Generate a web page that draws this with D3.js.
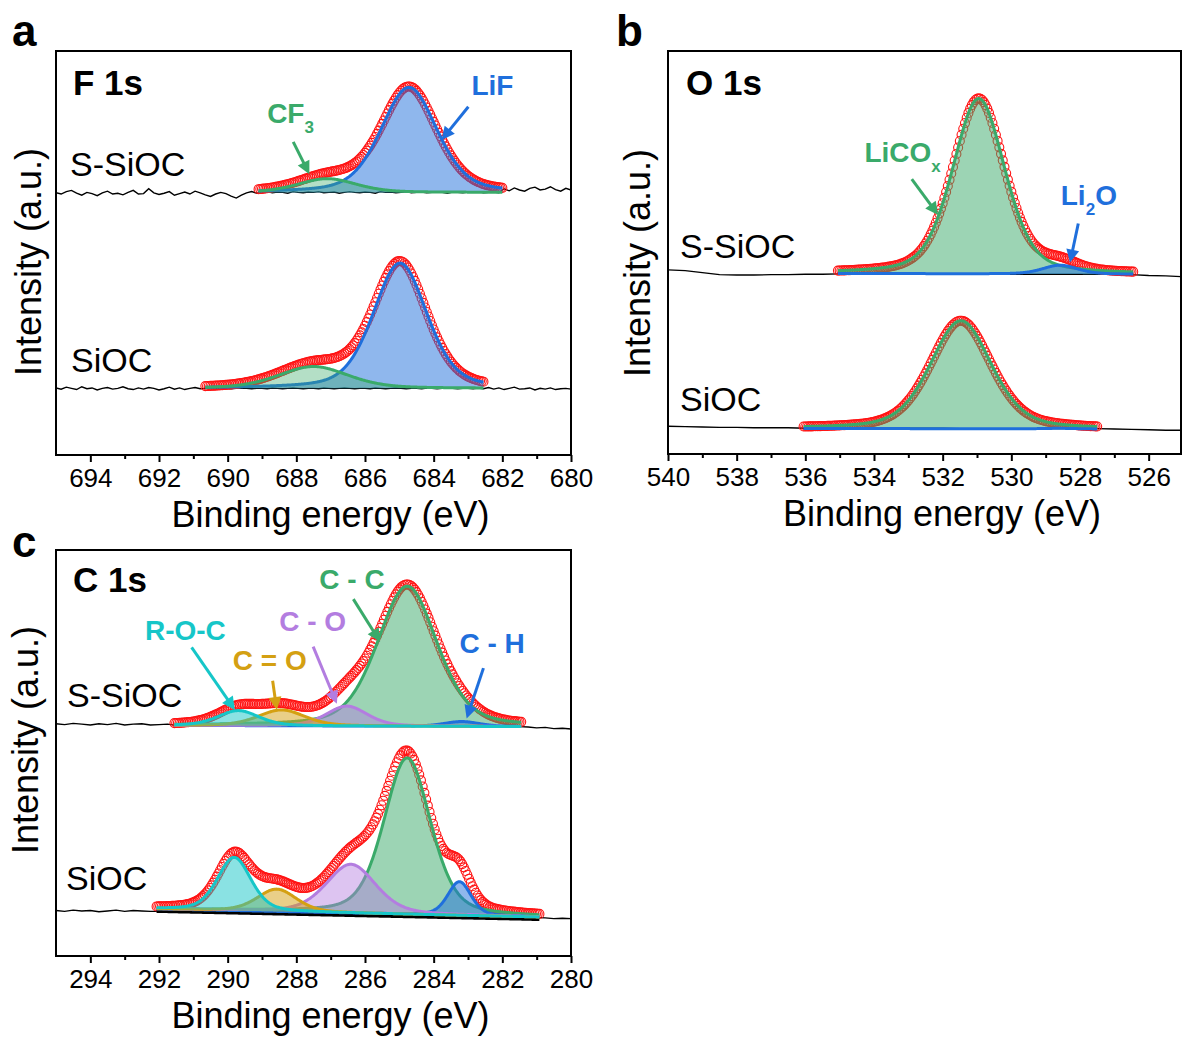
<!DOCTYPE html>
<html><head><meta charset="utf-8">
<script src="https://cdn.jsdelivr.net/npm/d3@7"></script>
<style>
body{margin:0;background:#fff}
svg{display:block}
text{font-family:"Liberation Sans",Arial,sans-serif}
</style>
</head><body>
<svg id="chart" width="1182" height="1038"></svg>
<script>
// ================= DATA =================
const panelLetters = ["a", "b", "c"];
const panelTitles = ["F 1s", "O 1s", "C 1s"];
const sampleNames = ["S-SiOC", "SiOC"];
const xTitle = "Binding energy (eV)";
const yTitle = "Intensity (a.u.)";

const xDomainA = [695, 680], xTicksA = [694, 692, 690, 688, 686, 684, 682, 680];
const xDomainB = [540, 525], xTicksB = [540, 538, 536, 534, 532, 530, 528, 526];
const xDomainC = [295, 280], xTicksC = [294, 292, 290, 288, 286, 284, 282, 280];

// ---- F 1s fitted components (centre eV, height a.u., FWHM eV) ----
const f1sNames = ["LiF", "CF3"];
const f1sCenterS = [684.72, 687.10], f1sHeightS = [26.0, 3.4], f1sFwhmS = [1.93, 2.0];
const f1sRangeS = [689.1, 682.0], f1sBgS = [65.0, 65.0];
const f1sCenterP = [684.98, 687.50], f1sHeightP = [31.0, 5.4], f1sFwhmP = [1.85, 2.4];
const f1sRangeP = [690.65, 682.55], f1sBgP = [16.5, 16.5];

// ---- O 1s fitted components ----
const o1sNames = ["LiCOx", "Li2O"];
const o1sCenterS = [530.95, 528.58], o1sHeightS = [43.5, 2.2], o1sFwhmS = [1.8, 1.2];
const o1sRangeS = [535.05, 526.45], o1sBgS = [44.8, 44.6];
const o1sCenterP = [531.47, 528.60], o1sHeightP = [26.8, 0.15], o1sFwhmP = [2.1, 1.2];
const o1sRangeP = [536.05, 527.5], o1sBgP = [6.35, 6.2];

// ---- C 1s fitted components ----
const c1sNames = ["C - C", "C - H", "C - O", "C = O", "R-O-C"];
const c1sCenterS = [284.77, 283.18, 286.53, 288.43, 289.69];
const c1sHeightS = [34.5, 1.2, 4.9, 3.9, 3.7];
const c1sFwhmS = [2.05, 1.2, 1.4, 1.6, 1.4];
const c1sRangeS = [291.55, 281.45], c1sBgS = [56.8, 56.5];
const c1sCenterP = [284.77, 283.25, 286.41, 288.57, 289.81];
const c1sHeightP = [38.5, 8.3, 12.0, 5.5, 13.1];
const c1sFwhmP = [1.6, 0.8, 1.7, 1.35, 1.15];
const c1sRangeP = [292.07, 280.92], c1sBgP = [11.6, 9.6];

// ---- raw survey traces (black lines): start eV, step eV, intensities ----
const rawAS = {start: 695, step: 0.15, v: [
 64.9,64.6,65.2,65.5,64.8,64.3,65.0,64.7,64.2,64.9,
 65.3,64.6,64.8,64.4,65.0,65.5,64.6,64.7,65.9,64.9,
 64.5,64.8,65.2,64.3,64.7,65.1,64.6,65.3,64.9,64.4,
 64.0,64.6,65.0,64.7,64.1,63.6,64.3,64.9,65.2,64.8,
 65.0,65.2,64.9,65.1,65.0,64.8,65.2,65.0,64.9,65.1,
 65.0,65.2,64.9,65.0,65.1,64.8,65.0,65.2,65.0,64.9,
 65.1,65.0,64.8,65.2,65.0,65.1,64.9,65.0,65.2,64.9,
 65.0,65.1,64.9,65.0,65.2,65.0,64.8,65.1,65.0,64.9,
 65.1,65.0,65.2,64.9,65.0,65.1,64.9,65.9,65.4,66.1,
 65.6,65.3,66.0,66.3,65.6,65.8,66.4,65.7,65.3,66.0,
 65.6]};
const rawAP = {start: 695, step: 0.15, v: [
 16.6,16.3,16.8,16.5,16.2,16.9,16.4,16.6,16.1,16.5,
 16.7,16.3,16.5,16.9,16.4,16.2,16.6,16.3,16.7,16.5,
 16.1,16.4,16.8,16.3,16.6,16.2,16.5,16.7,16.4,16.5,
 16.5,16.4,16.6,16.5,16.4,16.5,16.6,16.5,16.4,16.5,
 16.5,16.4,16.6,16.5,16.4,16.5,16.6,16.5,16.4,16.5,
 16.5,16.4,16.6,16.5,16.4,16.5,16.6,16.5,16.4,16.5,
 16.5,16.4,16.6,16.5,16.4,16.5,16.6,16.5,16.4,16.5,
 16.5,16.4,16.6,16.5,16.4,16.5,16.6,16.5,16.4,16.5,
 16.5,16.4,16.6,16.4,16.7,16.3,16.6,16.2,16.5,16.8,
 16.3,16.4,16.6,16.1,16.5,16.3,16.6,16.2,16.4,16.5,
 16.3]};
const rawBS = {start: 540, step: 0.5, v: [
 45.7,45.5,45.0,44.5,44.4,44.4,44.5,44.5,44.6,44.6,44.7,
 44.7,44.7,44.7,44.7,44.7,44.7,44.7,44.7,44.6,44.6,44.6,44.6,44.6,44.6,44.6,44.6,
 44.5,44.3,44.2,44.0]};
const rawBP = {start: 540, step: 0.5, v: [
 6.9,6.8,6.7,6.6,6.6,6.5,6.5,6.5,6.4,
 6.4,6.4,6.4,6.4,6.4,6.4,6.4,6.4,6.3,6.3,6.3,6.3,6.3,6.3,6.3,6.3,6.3,
 6.2,6.1,6.0,5.9,5.9]};
const rawCS = {start: 295, step: 0.25, v: [
 57.2,57.0,57.3,57.1,56.9,57.2,57.0,57.3,56.9,57.1,57.2,56.9,57.0,57.1,
 56.8,56.8,56.8,56.8,56.8,56.8,56.8,56.8,56.8,56.8,56.7,56.7,56.7,56.7,56.7,56.7,
 56.7,56.7,56.7,56.7,56.6,56.6,56.6,56.6,56.6,56.6,56.6,56.6,56.6,56.6,56.5,56.5,
 56.5,56.5,56.5,56.5,56.5,56.5,56.5,56.5,56.5,
 56.4,56.2,56.3,56.0,56.1,55.9]};
const rawCP = {start: 295, step: 0.25, v: [
 11.2,11.0,11.3,11.1,11.2,10.9,11.1,11.3,11.0,11.2,11.1,11.0,
 11.0,11.0,10.9,10.9,10.9,10.8,10.8,10.8,10.7,10.7,10.7,10.6,10.6,10.6,10.5,10.5,
 10.5,10.4,10.4,10.4,10.3,10.3,10.3,10.2,10.2,10.2,10.1,10.1,10.1,10.0,10.0,10.0,
 9.9,9.9,9.9,9.8,9.8,9.8,9.7,9.7,9.7,9.6,9.6,9.6,9.5,
 9.4,9.2,9.3,9.2]};

// ================= STYLE / LAYOUT =================
const BLUE = "#1f6fdc", GREEN = "#3aaa6a", PURPLE = "#b37de0", GOLD = "#d4a012", CYAN = "#16c6c8", RED = "#ff1414";
const lineMix = 0.35; // Gaussian-Lorentzian mix of the fitted components
function pv(e, c, h, w) {
  const t = (e - c) / w;
  return h * ((1 - lineMix) * Math.exp(-4 * Math.LN2 * t * t) + lineMix / (1 + 4 * t * t));
}

const panels = [
  {letter: panelLetters[0], title: panelTitles[0], frame: {x0: 56, x1: 571, y0: 51, y1: 455}, xDomain: xDomainA, ticks: xTicksA,
   colors: [BLUE, GREEN], opac: [0.5, 0.38],
   samples: [
     {name: sampleNames[0], label: [70, 176], raw: rawAS, range: f1sRangeS, bg: f1sBgS, centers: f1sCenterS, heights: f1sHeightS, fwhm: f1sFwhmS},
     {name: sampleNames[1], label: [71, 372], raw: rawAP, range: f1sRangeP, bg: f1sBgP, centers: f1sCenterP, heights: f1sHeightP, fwhm: f1sFwhmP}],
   letterPos: [12, 46], titlePos: [73, 95], yTitlePos: [41, 262],
   notes: [
     {parts: [["LiF", 0]], color: BLUE, at: [682.90, 89.2], arrow: [682.99, 86.2, 683.77, 78.0]},
     {parts: [["CF", 0], ["3", 1]], color: GREEN, at: [688.85, 82.1], arrow: [688.09, 77.5, 687.62, 69.5]}]},
  {letter: panelLetters[1], title: panelTitles[1], frame: {x0: 668, x1: 1183, y0: 51, y1: 454}, xDomain: xDomainB, ticks: xTicksB,
   colors: [GREEN, BLUE], opac: [0.5, 0.5],
   samples: [
     {name: sampleNames[0], label: [680, 258], raw: rawBS, range: o1sRangeS, bg: o1sBgS, centers: o1sCenterS, heights: o1sHeightS, fwhm: o1sFwhmS},
     {name: sampleNames[1], label: [680, 411], raw: rawBP, range: o1sRangeP, bg: o1sBgP, centers: o1sCenterP, heights: o1sHeightP, fwhm: o1sFwhmP}],
   letterPos: [616, 46], titlePos: [686, 95], yTitlePos: [650, 263],
   notes: [
     {parts: [["LiCO", 0], ["x", 1]], color: GREEN, at: [534.28, 72.5], arrow: [532.90, 68.2, 532.13, 59.3]},
     {parts: [["Li", 0], ["2", 1], ["O", 2]], color: BLUE, at: [528.56, 61.8], arrow: [528.05, 57.2, 528.29, 47.5]}]},
  {letter: panelLetters[2], title: panelTitles[2], frame: {x0: 56, x1: 571, y0: 550, y1: 956}, xDomain: xDomainC, ticks: xTicksC,
   colors: [GREEN, BLUE, PURPLE, GOLD, CYAN], opac: [0.5, 0.5, 0.45, 0.5, 0.5],
   samples: [
     {name: sampleNames[0], label: [67, 707], raw: rawCS, range: c1sRangeS, bg: c1sBgS, centers: c1sCenterS, heights: c1sHeightS, fwhm: c1sFwhmS},
     {name: sampleNames[1], label: [66, 890], raw: rawCP, range: c1sRangeP, bg: c1sBgP, centers: c1sCenterP, heights: c1sHeightP, fwhm: c1sFwhmP, bgLine: true}],
   letterPos: [12, 557], titlePos: [73, 592], yTitlePos: [38, 740],
   notes: [
     {parts: [["R-O-C", 0]], color: CYAN, at: [292.41, 77.8], arrow: [291.05, 76.0, 289.79, 60.6]},
     {parts: [["C = O", 0]], color: GOLD, at: [289.85, 70.4], arrow: [288.69, 67.8, 288.57, 60.6]},
     {parts: [["C - O", 0]], color: PURPLE, at: [288.50, 80.1], arrow: [287.51, 76.2, 286.82, 62.1]},
     {parts: [["C - C", 0]], color: GREEN, at: [287.33, 90.3], arrow: [286.34, 87.9, 285.56, 77.4]},
     {parts: [["C - H", 0]], color: BLUE, at: [283.25, 74.7], arrow: [282.55, 70.9, 283.04, 58.5]}]}
];

// ================= DRAW =================
const svg = d3.select("#chart");

function arrow(g, x1, y1, x2, y2, color) {
  const dx = x2 - x1, dy = y2 - y1, L = Math.hypot(dx, dy), ux = dx / L, uy = dy / L;
  const hl = 13, hw = 6.5;
  const bx = x2 - ux * hl, by = y2 - uy * hl;
  g.append("line").attr("x1", x1).attr("y1", y1).attr("x2", bx + ux * 2).attr("y2", by + uy * 2)
    .attr("stroke", color).attr("stroke-width", 3);
  g.append("path").attr("d", `M${x2},${y2}L${bx - uy * hw},${by + ux * hw}L${bx + uy * hw},${by - ux * hw}Z`).attr("fill", color);
}

panels.forEach((p, pi) => {
  const f = p.frame;
  const x = d3.scaleLinear().domain(p.xDomain).range([f.x0, f.x1]);
  const y = d3.scaleLinear().domain([0, 100]).range([f.y1, f.y0]);
  const g = svg.append("g");
  const clipId = "clip" + pi;
  svg.append("clipPath").attr("id", clipId).append("rect")
    .attr("x", f.x0).attr("y", f.y0).attr("width", Math.min(f.x1, 1181) - f.x0).attr("height", f.y1 - f.y0);
  const plot = g.append("g").attr("clip-path", `url(#${clipId})`);

  p.samples.forEach(s => {
    // raw black trace
    const rawPts = s.raw.v.map((v, i) => [s.raw.start - i * s.raw.step, v]);
    plot.append("path").datum(rawPts)
      .attr("d", d3.line().x(d => x(d[0])).y(d => y(d[1])))
      .attr("fill", "none").attr("stroke", "#000").attr("stroke-width", 1.4);

    const [e0, e1] = s.range;
    const bg = e => s.bg[0] + (s.bg[1] - s.bg[0]) * (e - e0) / (e1 - e0);
    const n = Math.round((e0 - e1) / 0.05);
    const grid = d3.range(n + 1).map(i => e0 - (e0 - e1) * i / n);
    const env = grid.map(e => [e, bg(e) + d3.sum(s.centers, (c, k) => pv(e, c, s.heights[k], s.fwhm[k]))]);

    // measured points (open red circles)
    plot.append("g").selectAll("circle").data(env).join("circle")
      .attr("cx", d => x(d[0])).attr("cy", d => y(d[1])).attr("r", 4.5)
      .attr("fill", "none").attr("stroke", RED).attr("stroke-width", 1.1);

    if (s.bgLine) {
      plot.append("path").datum(grid)
        .attr("d", d3.line().x(e => x(e)).y(e => y(bg(e)) + 1.5))
        .attr("fill", "none").attr("stroke", "#000").attr("stroke-width", 5);
    }

    const nf = Math.round((e0 - e1) / 0.02);
    const fine = d3.range(nf + 1).map(i => e0 - (e0 - e1) * i / nf);
    s.centers.forEach((c, k) => {
      const comp = fine.map(e => [e, bg(e), bg(e) + pv(e, c, s.heights[k], s.fwhm[k])]);
      plot.append("path").datum(comp)
        .attr("d", d3.area().x(d => x(d[0])).y0(d => y(d[1])).y1(d => y(d[2])))
        .attr("fill", p.colors[k]).attr("fill-opacity", p.opac[k]);
      plot.append("path").datum(comp)
        .attr("d", d3.line().x(d => x(d[0])).y(d => y(d[2])))
        .attr("fill", "none").attr("stroke", p.colors[k]).attr("stroke-width", 3).attr("stroke-linejoin", "round");
    });

    g.append("text").attr("x", s.label[0]).attr("y", s.label[1])
      .attr("font-size", 34).attr("fill", "#000").text(s.name);
  });

  // annotations
  p.notes.forEach(nt => {
    const t = g.append("text").attr("x", x(nt.at[0])).attr("y", y(nt.at[1]))
      .attr("font-size", 28).attr("font-weight", "bold").attr("fill", nt.color);
    nt.parts.forEach(([str, kind]) => {
      const ts = t.append("tspan").text(str);
      if (kind === 1) ts.attr("font-size", 17).attr("dy", 10);
      if (kind === 2) ts.attr("dy", -10);
    });
    arrow(g, x(nt.arrow[0]), y(nt.arrow[1]), x(nt.arrow[2]), y(nt.arrow[3]), nt.color);
  });

  // frame
  g.append("rect").attr("x", f.x0).attr("y", f.y0)
    .attr("width", Math.min(f.x1, 1181) - f.x0).attr("height", f.y1 - f.y0)
    .attr("fill", "none").attr("stroke", "#000").attr("stroke-width", 2);

  // minor ticks
  const lo = Math.min(...p.xDomain), hi = Math.max(...p.xDomain);
  const minor = d3.range(lo, hi + 1).filter(v => !p.ticks.includes(v) && x(v) < 1181 && v !== p.xDomain[0]);
  g.append("g").attr("transform", `translate(0,${f.y1})`)
    .call(d3.axisBottom(x).tickValues(minor).tickSize(4).tickFormat(""))
    .call(a => a.select(".domain").remove())
    .call(a => a.selectAll("line").attr("stroke-width", 2));
  // major ticks + labels
  g.append("g").attr("transform", `translate(0,${f.y1})`)
    .call(d3.axisBottom(x).tickValues(p.ticks).tickSize(7).tickPadding(7).tickFormat(d3.format("d")))
    .call(a => a.select(".domain").remove())
    .call(a => a.selectAll("line").attr("stroke-width", 2))
    .call(a => a.selectAll("text").attr("font-size", 26).attr("fill", "#000")
      .attr("font-family", '"Liberation Sans", Arial, sans-serif'));

  // titles
  g.append("text").attr("x", (f.x0 + Math.min(f.x1, 1182)) / 2 + 17).attr("y", f.y1 + 72)
    .attr("text-anchor", "middle").attr("font-size", 36).text(xTitle);
  g.append("text").attr("transform", `translate(${p.yTitlePos[0]},${p.yTitlePos[1]}) rotate(-90)`)
    .attr("text-anchor", "middle").attr("font-size", 36).text(yTitle);
  g.append("text").attr("x", p.letterPos[0]).attr("y", p.letterPos[1])
    .attr("font-size", 44).attr("font-weight", "bold").text(p.letter);
  g.append("text").attr("x", p.titlePos[0]).attr("y", p.titlePos[1])
    .attr("font-size", 35).attr("font-weight", "bold").text(p.title);
});
</script>
</body></html>
